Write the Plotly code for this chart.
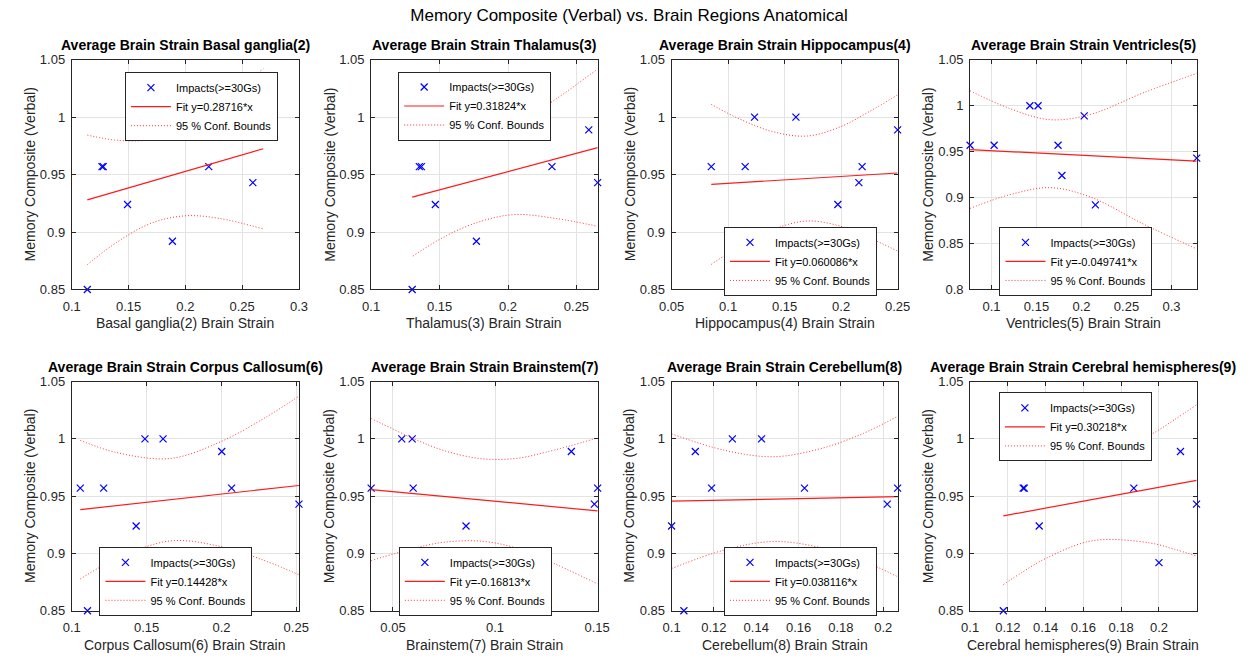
import plotly.graph_objects as go

W, H = 1258, 663

# ---------------- data ----------------
regions = ["Basal ganglia(2)", "Thalamus(3)", "Hippocampus(4)", "Ventricles(5)",
           "Corpus Callosum(6)", "Brainstem(7)", "Cerebellum(8)", "Cerebral hemispheres(9)"]
slopes = [0.28716, 0.31824, 0.060086, -0.049741, 0.14428, -0.16813, 0.038116, 0.30218]
intercepts = [0.8954, 0.8890, 0.9364, 0.9560, 0.9230, 0.9624, 0.9418, 0.8973]

strain_basal = [0.1137, 0.1266, 0.1277, 0.1491, 0.1886, 0.2206, 0.2594, 0.2686]
memory_basal = [0.850, 0.957, 0.957, 0.924, 0.892, 0.957, 0.943, 0.989]
strain_thal = [0.1300, 0.1352, 0.1367, 0.1469, 0.1769, 0.2321, 0.2590, 0.2655]
memory_thal = [0.850, 0.957, 0.957, 0.924, 0.892, 0.957, 0.989, 0.943]
strain_hippo = [0.0851, 0.1151, 0.1171, 0.1234, 0.1600, 0.1971, 0.2157, 0.2186, 0.2500]
memory_hippo = [0.957, 0.957, 0.850, 1.000, 1.000, 0.924, 0.943, 0.957, 0.989]
strain_vent = [0.0762, 0.1029, 0.1426, 0.1517, 0.1739, 0.1782, 0.2030, 0.2154, 0.3280]
memory_vent = [0.957, 0.957, 1.000, 1.000, 0.957, 0.924, 0.989, 0.892, 0.943]
strain_cc = [0.1057, 0.1105, 0.1213, 0.1430, 0.1489, 0.1610, 0.2002, 0.2068, 0.2518]
memory_cc = [0.957, 0.850, 0.957, 0.924, 1.000, 1.000, 0.989, 0.957, 0.943]
strain_bs = [0.0393, 0.0543, 0.0594, 0.0599, 0.0815, 0.0858, 0.1374, 0.1487, 0.1503]
memory_bs = [0.957, 1.000, 1.000, 0.957, 0.850, 0.924, 0.989, 0.943, 0.957]
strain_cb = [0.1000, 0.1058, 0.1112, 0.1189, 0.1287, 0.1425, 0.1628, 0.2019, 0.2068]
memory_cb = [0.924, 0.850, 0.989, 0.957, 1.000, 1.000, 0.957, 0.943, 0.957]
strain_ch = [0.1176, 0.1281, 0.1287, 0.1366, 0.1867, 0.2000, 0.2114, 0.2199]
memory_ch = [0.850, 0.957, 0.957, 0.924, 0.957, 0.892, 0.989, 0.943]

# 95 % confidence band: x positions and half-widths around the fit
band_x_basal = [0.1137, 0.14, 0.17, 0.20, 0.23, 0.2686]
band_hw_basal = [0.0564, 0.0443, 0.0365, 0.0387, 0.0496, 0.0698]
band_x_thal = [0.1305, 0.155, 0.18, 0.205, 0.235, 0.2655]
band_hw_thal = [0.0515, 0.0415, 0.037, 0.039, 0.052, 0.0685]
band_x_hippo = [0.0851, 0.11, 0.14, 0.17, 0.20, 0.225, 0.25]
band_hw_hippo = [0.0697, 0.0555, 0.0425, 0.037, 0.0435, 0.055, 0.068]
band_x_vent = [0.0762, 0.12, 0.165, 0.21, 0.27, 0.328]
band_hw_vent = [0.064, 0.047, 0.037, 0.045, 0.072, 0.0955]
band_x_cc = [0.1057, 0.13, 0.166, 0.20, 0.23, 0.2518]
band_hw_cc = [0.0605, 0.0463, 0.036, 0.046, 0.063, 0.078]
band_x_bs = [0.0393, 0.06, 0.075, 0.0935, 0.11, 0.125, 0.1503]
band_hw_bs = [0.062, 0.048, 0.040, 0.036, 0.039, 0.047, 0.0637]
band_x_cb = [0.100, 0.125, 0.148, 0.17, 0.19, 0.2068]
band_hw_cb = [0.0588, 0.0435, 0.037, 0.043, 0.0553, 0.070]
band_x_ch = [0.1176, 0.128, 0.14, 0.165, 0.195, 0.208, 0.2199]
band_hw_ch = [0.060, 0.052, 0.044, 0.036, 0.047, 0.0564, 0.066]

# axis ranges and ticks
xrange_basal = [0.1, 0.3]
xticks_basal = [0.1, 0.15, 0.2, 0.25, 0.3]
xlabels_basal = ["0.1", "0.15", "0.2", "0.25", "0.3"]
xrange_thal = [0.1, 0.2655]
xticks_thal = [0.1, 0.15, 0.2, 0.25]
xlabels_thal = ["0.1", "0.15", "0.2", "0.25"]
xrange_hippo = [0.05, 0.25]
xticks_hippo = [0.05, 0.1, 0.15, 0.2, 0.25]
xlabels_hippo = ["0.05", "0.1", "0.15", "0.2", "0.25"]
xrange_vent = [0.0762, 0.328]
xticks_vent = [0.1, 0.15, 0.2, 0.25, 0.3]
xlabels_vent = ["0.1", "0.15", "0.2", "0.25", "0.3"]
xrange_cc = [0.1, 0.2518]
xticks_cc = [0.1, 0.15, 0.2, 0.25]
xlabels_cc = ["0.1", "0.15", "0.2", "0.25"]
xrange_bs = [0.0393, 0.1503]
xticks_bs = [0.05, 0.1, 0.15]
xlabels_bs = ["0.05", "0.1", "0.15"]
xrange_cb = [0.1, 0.2068]
xticks_cb = [0.1, 0.12, 0.14, 0.16, 0.18, 0.2]
xlabels_cb = ["0.1", "0.12", "0.14", "0.16", "0.18", "0.2"]
xrange_ch = [0.1, 0.22]
xticks_ch = [0.1, 0.12, 0.14, 0.16, 0.18, 0.2]
xlabels_ch = ["0.1", "0.12", "0.14", "0.16", "0.18", "0.2"]

yrange_std = [0.85, 1.05]
yticks_std = [0.85, 0.9, 0.95, 1.0, 1.05]
ylabels_std = ["0.85", "0.9", "0.95", "1", "1.05"]
yrange_vent = [0.8, 1.05]
yticks_vent = [0.8, 0.85, 0.9, 0.95, 1.0, 1.05]
ylabels_vent = ["0.8", "0.85", "0.9", "0.95", "1", "1.05"]

panels = [
    (strain_basal, memory_basal, band_x_basal, band_hw_basal, xrange_basal, xticks_basal, xlabels_basal, yrange_std, yticks_std, ylabels_std),
    (strain_thal, memory_thal, band_x_thal, band_hw_thal, xrange_thal, xticks_thal, xlabels_thal, yrange_std, yticks_std, ylabels_std),
    (strain_hippo, memory_hippo, band_x_hippo, band_hw_hippo, xrange_hippo, xticks_hippo, xlabels_hippo, yrange_std, yticks_std, ylabels_std),
    (strain_vent, memory_vent, band_x_vent, band_hw_vent, xrange_vent, xticks_vent, xlabels_vent, yrange_vent, yticks_vent, ylabels_vent),
    (strain_cc, memory_cc, band_x_cc, band_hw_cc, xrange_cc, xticks_cc, xlabels_cc, yrange_std, yticks_std, ylabels_std),
    (strain_bs, memory_bs, band_x_bs, band_hw_bs, xrange_bs, xticks_bs, xlabels_bs, yrange_std, yticks_std, ylabels_std),
    (strain_cb, memory_cb, band_x_cb, band_hw_cb, xrange_cb, xticks_cb, xlabels_cb, yrange_std, yticks_std, ylabels_std),
    (strain_ch, memory_ch, band_x_ch, band_hw_ch, xrange_ch, xticks_ch, xlabels_ch, yrange_std, yticks_std, ylabels_std),
]

# ---------------- layout geometry (pixels) ----------------
col_px = [(60, 292), (365.7, 597), (672.5, 903.3), (977.3, 1208.7)]
row_px = [(54, 289), (383.3, 617.7)]
legend_px = [(114.3, 66.7), (393.3, 66), (726, 225), (1007.3, 225),
             (88.3, 552.3), (394, 552.3), (726, 552.3), (1006.7, 394.3)]

FONT = "Liberation Sans, Arial, sans-serif"
AXC = "#262626"
BOUND = dict(color="rgba(255,0,0,0.8)", width=1, dash="1px,2px")

fig = go.Figure()
layout = dict(
    width=W, height=H, margin=dict(l=0, r=0, t=0, b=0),
    paper_bgcolor="white", plot_bgcolor="white",
    font=dict(family=FONT, color=AXC),
    title=dict(text="Memory Composite (Verbal) vs. Brain Regions Anatomical",
               x=0.5, xanchor="center", y=1 - 15 / H, yanchor="middle",
               font=dict(size=17, color="black", family=FONT)),
)
annotations = []

for i, (xs, ys, bx, hw, xr, xt, xl, yr, yt, yl) in enumerate(panels):
    r, c = divmod(i, 4)
    sfx = "" if i == 0 else str(i + 1)
    xa, ya = "x" + sfx, "y" + sfx
    lg = "legend" if i == 0 else "legend" + str(i + 1)
    m, b = slopes[i], intercepts[i]

    fig.add_trace(go.Scatter(
        x=xs, y=ys, mode="markers", name="Impacts(>=30Gs)", xaxis=xa, yaxis=ya, legend=lg,
        cliponaxis=False,
        marker=dict(symbol="x-thin", size=7, color="blue", line=dict(width=1.2, color="blue"))))
    fx = [min(xs), max(xs)]
    fig.add_trace(go.Scatter(
        x=fx, y=[m * v + b for v in fx], mode="lines", name="Fit y=%s*x" % format(m, "g"),
        xaxis=xa, yaxis=ya, legend=lg, line=dict(color="#ff1a1a", width=1.2)))
    fig.add_trace(go.Scatter(
        x=bx, y=[m * v + b + h for v, h in zip(bx, hw)], mode="lines", name="95 % Conf. Bounds",
        xaxis=xa, yaxis=ya, legend=lg, legendgroup="cb" + sfx, line_shape="spline", line=BOUND))
    fig.add_trace(go.Scatter(
        x=bx, y=[m * v + b - h for v, h in zip(bx, hw)], mode="lines", name="95 % Conf. Bounds",
        xaxis=xa, yaxis=ya, legend=lg, legendgroup="cb" + sfx, showlegend=False,
        line_shape="spline", line=BOUND))

    l, rr = col_px[c]
    t, bt = row_px[r]
    common = dict(ticks="inside", ticklen=4, tickcolor=AXC, showgrid=True, gridcolor="#e3e3e3",
                  gridwidth=1, showline=True, mirror="ticks", linecolor=AXC, linewidth=1,
                  zeroline=False, tickfont=dict(size=13, color=AXC, family=FONT), tickmode="array")
    layout["xaxis" + sfx] = dict(domain=[l / W, rr / W], range=xr, tickvals=xt, ticktext=xl,
                                 anchor=ya, ticklabelstandoff=5, **common)
    layout["yaxis" + sfx] = dict(domain=[1 - bt / H, 1 - t / H], range=yr, tickvals=yt, ticktext=yl,
                                 anchor=xa, ticklabelstandoff=3, **common)

    lx, ly = legend_px[i]
    layout[lg] = dict(x=lx / W, y=1 - ly / H, xanchor="left", yanchor="top", xref="paper", yref="paper",
                      bgcolor="white", bordercolor=AXC, borderwidth=1, itemwidth=40, tracegroupgap=0,
                      font=dict(size=11, color="black", family=FONT))

    cx = (l + rr) / 2 / W
    annotations.append(dict(text="Average Brain Strain " + regions[i], x=cx, y=1 - t / H, xref="paper",
                            yref="paper", xanchor="center", yanchor="bottom", yshift=5, showarrow=False,
                            font=dict(size=14, color="black", family=FONT, weight="bold")))
    annotations.append(dict(text=regions[i] + " Brain Strain", x=cx, y=1 - bt / H, xref="paper",
                            yref="paper", xanchor="center", yanchor="top", yshift=-24, showarrow=False,
                            font=dict(size=14, color=AXC, family=FONT)))
    annotations.append(dict(text="Memory Composite (Verbal)", x=l / W, y=1 - (t + bt) / 2 / H,
                            xref="paper", yref="paper", xanchor="center", yanchor="middle",
                            xshift=-42, textangle=-90, showarrow=False,
                            font=dict(size=14, color=AXC, family=FONT)))

layout["annotations"] = annotations
fig.update_layout(**layout)
fig.write_html("out.html")
